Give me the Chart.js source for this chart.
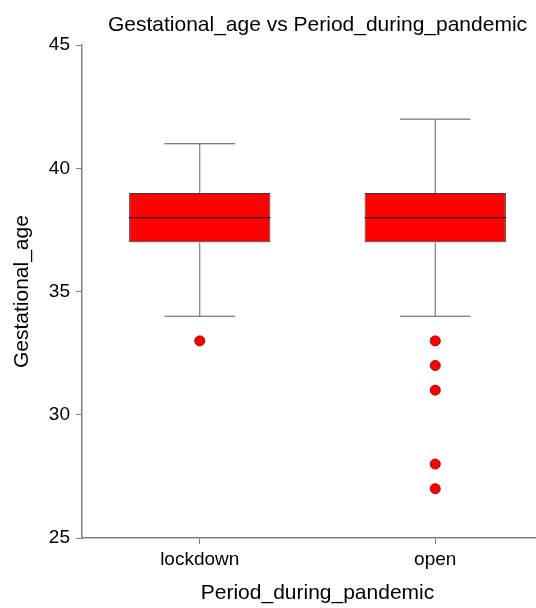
<!DOCTYPE html>
<html>
<head>
<meta charset="utf-8">
<script src="https://cdn.jsdelivr.net/npm/chart.js@4/dist/chart.umd.min.js"></script>
<style>
  html, body { margin: 0; padding: 0; background: #fff; overflow: hidden; }
  #wrap { width: 536px; height: 608px; overflow: hidden; }
</style>
</head>
<body>
<div id="wrap"><canvas id="myChart" width="553" height="608"></canvas></div>
<script>
let categories = ["lockdown", "open"];
let q1 = [37, 37];
let median = [38, 38];
let q3 = [39, 39];
let whiskerLow = [34, 34];
let whiskerHigh = [41, 42];
let outliers = [[33], [33, 32, 31, 28, 27]];
let yTicks = [25, 30, 35, 40, 45];

let boxHalf = 0.3;
let capHalf = 0.15;
let fontFamily = "'Liberation Sans', Arial, sans-serif";
let axisGray = "#808080";

let boxData = categories.map((c, i) => ({ x: i + 1, y: [q1[i], q3[i]] }));

let whiskerData = [];
let capData = [];
let medianData = [];
let outlierData = [];
categories.forEach((c, i) => {
    let x = i + 1;
    whiskerData.push({ x, y: whiskerLow[i] }, { x, y: q1[i] }, { x, y: null });
    whiskerData.push({ x, y: q3[i] }, { x, y: whiskerHigh[i] }, { x, y: null });
    capData.push({ x: x - capHalf, y: whiskerLow[i] }, { x: x + capHalf, y: whiskerLow[i] }, { x, y: null });
    capData.push({ x: x - capHalf, y: whiskerHigh[i] }, { x: x + capHalf, y: whiskerHigh[i] }, { x, y: null });
    medianData.push({ x: x - boxHalf, y: median[i] }, { x: x + boxHalf, y: median[i] }, { x, y: null });
    for (const v of outliers[i]) {
        outlierData.push({ x, y: v });
    }
});

let lineStyle = {
    type: "line",
    pointRadius: 0,
    borderWidth: 1,
    spanGaps: false,
    fill: false,
};

const conf = {
    type: "bar",
    data: {
        datasets: [
            {
                ...lineStyle,
                data: medianData,
                borderColor: "#000",
                order: 0,
            },
            {
                data: boxData,
                backgroundColor: "#ff0000",
                borderColor: "#3a3a3a",
                borderWidth: 1,
                borderSkipped: false,
                barPercentage: 0.75,
                categoryPercentage: 0.8,
                order: 1,
            },
            {
                ...lineStyle,
                data: whiskerData,
                borderColor: "#666",
                order: 2,
            },
            {
                ...lineStyle,
                data: capData,
                borderColor: "#555",
                order: 2,
            },
            {
                type: "scatter",
                data: outlierData,
                backgroundColor: "#ff0000",
                borderColor: "#b00000",
                borderWidth: 1,
                pointRadius: 5,
                order: 0,
            },
        ],
    },
    options: {
        responsive: false,
        animation: false,
        layout: { autoPadding: false, padding: 0 },
        plugins: {
            legend: { display: false },
            tooltip: { enabled: false },
            title: {
                display: true,
                text: "Gestational_age vs Period_during_pandemic",
                color: "#000",
                fullSize: false,
                font: { family: fontFamily, size: 21, weight: "normal" },
                padding: { top: 13, bottom: 7 },
            },
        },
        scales: {
            x: {
                type: "linear",
                min: 0.5,
                max: 2.5,
                offset: false,
                afterBuildTicks: (scale) => {
                    scale.ticks = categories.map((c, i) => ({ value: i + 1 }));
                },
                afterFit: (scale) => { scale.height = 70; },
                ticks: {
                    color: "#000",
                    font: { family: fontFamily, size: 19 },
                    padding: 4,
                    callback: (v) => categories[v - 1],
                },
                grid: {
                    display: true,
                    offset: false,
                    drawOnChartArea: false,
                    drawTicks: true,
                    tickLength: 6,
                    color: axisGray,
                },
                border: { display: true, color: axisGray, width: 1.5 },
                title: {
                    display: true,
                    text: "Period_during_pandemic",
                    color: "#000",
                    font: { family: fontFamily, size: 21 },
                    padding: { top: 4, bottom: 2 },
                },
            },
            y: {
                min: 25,
                max: 45,
                afterBuildTicks: (scale) => {
                    scale.ticks = yTicks.map((v) => ({ value: v }));
                },
                afterFit: (scale) => { scale.width = 82; },
                ticks: {
                    color: "#000",
                    font: { family: fontFamily, size: 19 },
                    padding: 6,
                },
                grid: {
                    display: true,
                    drawOnChartArea: false,
                    drawTicks: true,
                    tickLength: 6,
                    color: axisGray,
                },
                border: { display: true, color: axisGray, width: 1.5 },
                title: {
                    display: true,
                    text: "Gestational_age",
                    color: "#000",
                    font: { family: fontFamily, size: 21 },
                    padding: { top: 10, bottom: 4 },
                },
            },
        },
    },
};

new Chart(document.querySelector("#myChart"), conf);
</script>
</body>
</html>
